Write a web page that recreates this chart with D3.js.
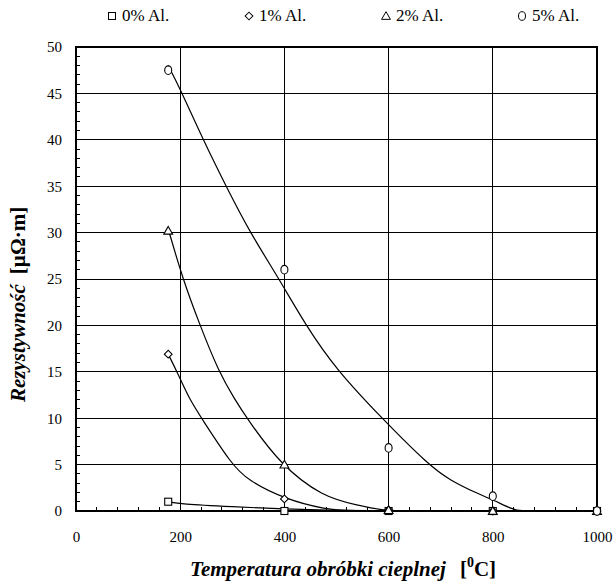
<!DOCTYPE html>
<html>
<head>
<meta charset="utf-8">
<script src="https://cdn.jsdelivr.net/npm/d3@7"></script>
<style>
  body { margin: 0; background: #fff; }
</style>
</head>
<body>
<div id="container"><svg></svg></div>
<script>
let width = 613;
let height = 586;

// measured points (temperature, resistivity)
const temps = [177, 400, 600, 800, 1000];
const al0 = [1.0, 0.0, 0.0, 0.0, 0.0];
const al1 = [16.9, 1.3, 0.1, 0.0, 0.0];
const al2 = [30.2, 5.0, 0.1, 0.0, 0.0];
const al5 = [47.5, 26.0, 6.8, 1.6, 0.0];

// trend lines
const trend0_t = [177, 200, 300, 400, 500, 600, 900];
const trend0_v = [1.0, 0.75, 0.46, 0.2, 0.05, 0.0, 0.0];
const trend1_t = [177, 194, 218, 241, 299, 330, 400, 480, 530, 900];
const trend1_v = [16.9, 15, 12, 10, 5, 3.3, 1.3, 0.15, 0.0, 0.0];
const trend2_t = [178, 205, 238, 274, 305, 328, 392, 474, 539, 590, 620, 900];
const trend2_v = [30.2, 25, 20, 15, 12, 10, 5, 1.5, 0.65, 0.05, 0.0, 0.0];
const trend5_t = [177, 200, 244, 288, 334, 390, 441, 500, 587, 676, 718, 770, 800, 837, 850, 905];
const trend5_v = [48.0, 45.5, 40, 35, 30, 25, 20, 15.2, 10, 5, 3.3, 1.9, 1.2, 0.2, 0.0, 0.0];

const series_names = ["0% Al.", "1% Al.", "2% Al.", "5% Al."];
const x_ticks = [0, 200, 400, 600, 800, 1000];
const y_ticks = [0, 5, 10, 15, 20, 25, 30, 35, 40, 45, 50];

let margin = {left: 76, right: 16, top: 47, bottom: 75};
let serif = "Liberation Serif";

function marker(g, kind, cx, cy) {
    if (kind == 0) {
        g.append("rect").attr("x", cx - 3.5).attr("y", cy - 3.5)
            .attr("width", 7).attr("height", 7);
    } else if (kind == 1) {
        g.append("path").attr("d", d3.symbol(d3.symbolSquare, 30)())
            .attr("transform", `translate(${cx},${cy}) rotate(45)`);
    } else if (kind == 2) {
        g.append("path").attr("d", d3.symbol(d3.symbolTriangle, 34)())
            .attr("transform", `translate(${cx},${cy + 0.8})`);
    } else {
        g.append("ellipse").attr("cx", cx).attr("cy", cy).attr("rx", 3.5).attr("ry", 4.3);
    }
}

function draw_chart() {
    let svg = d3.select('#container').select('svg')
        .attr('width', width)
        .attr('height', height);

    let x = d3.scaleLinear().domain([0, 1000]).range([margin.left, width - margin.right]);
    let y = d3.scaleLinear().domain([0, 50]).range([height - margin.bottom, margin.top]);

    // grid
    let grid = svg.append("g").attr("stroke", "#000").attr("stroke-width", 1)
        .attr("shape-rendering", "crispEdges");
    grid.selectAll(".gx").data(x_ticks.slice(1, -1)).join("line")
        .attr("x1", d => x(d)).attr("x2", d => x(d))
        .attr("y1", y(0)).attr("y2", y(50));
    grid.selectAll(".gy").data(y_ticks.slice(1, -1)).join("line")
        .attr("class", "gy")
        .attr("x1", x(0)).attr("x2", x(1000))
        .attr("y1", d => y(d)).attr("y2", d => y(d));

    // minor ticks
    grid.selectAll(".mx").data(d3.range(40, 1000, 40)).join("line")
        .attr("class", "mx")
        .attr("x1", d => x(d)).attr("x2", d => x(d))
        .attr("y1", y(0)).attr("y2", y(0) - 4);
    grid.selectAll(".my").data(d3.range(1, 50, 1)).join("line")
        .attr("class", "my")
        .attr("x1", x(0)).attr("x2", x(0) + 4)
        .attr("y1", d => y(d)).attr("y2", d => y(d));

    // frame
    svg.append("rect")
        .attr("x", x(0)).attr("y", y(50))
        .attr("width", x(1000) - x(0)).attr("height", y(0) - y(50))
        .attr("fill", "none").attr("stroke", "#000").attr("stroke-width", 1.5)
        .attr("shape-rendering", "crispEdges");
    svg.append("line").attr("x1", x(0)).attr("x2", x(1000))
        .attr("y1", y(0)).attr("y2", y(0)).attr("stroke", "#000").attr("stroke-width", 2);

    // axes labels
    let xAxis = svg.append("g").attr("transform", `translate(0,${y(0)})`)
        .call(d3.axisBottom(x).tickValues(x_ticks).tickFormat(d3.format("d")).tickSize(0).tickPadding(20));
    xAxis.select(".domain").remove();
    xAxis.selectAll("text").attr("fill", "#000")
        .attr("font-family", serif).attr("font-size", 15);

    let yAxis = svg.append("g").attr("transform", `translate(${x(0)},0)`)
        .call(d3.axisLeft(y).tickValues(y_ticks).tickSize(0).tickPadding(14));
    yAxis.select(".domain").remove();
    yAxis.selectAll("text").attr("fill", "#000")
        .attr("font-family", serif).attr("font-size", 15);

    // trend lines
    let line = d3.line().x(d => x(d[0])).y(d => y(d[1])).curve(d3.curveBasis);
    let trends = [[trend0_t, trend0_v], [trend1_t, trend1_v], [trend2_t, trend2_v], [trend5_t, trend5_v]];
    svg.append("g").selectAll("path").data(trends).join("path")
        .attr("d", d => line(d3.zip(d[0], d[1])))
        .attr("fill", "none").attr("stroke", "#000").attr("stroke-width", 1.2);

    // markers
    let all = [al0, al1, al2, al5];
    let mk = svg.append("g").attr("fill", "#fff").attr("stroke", "#000").attr("stroke-width", 1.1);
    for (let s = 0; s < all.length; s++) {
        for (let i = 0; i < temps.length; i++) {
            marker(mk, s, x(temps[i]), y(all[s][i]));
        }
    }

    // legend
    let leg_x = [112, 249, 386, 522];
    let lg = svg.append("g");
    let lm = lg.append("g").attr("fill", "#fff").attr("stroke", "#000").attr("stroke-width", 1);
    for (let s = 0; s < series_names.length; s++) {
        marker(lm, s, leg_x[s], 16);
        lg.append("text").attr("x", leg_x[s] + 10).attr("y", 21)
            .attr("font-family", serif).attr("font-size", 17).text(series_names[s]);
    }

    // axis titles
    let xt = svg.append("text").attr("x", 190).attr("y", 576)
        .attr("font-family", serif).attr("font-size", 21).attr("font-weight", "bold");
    xt.append("tspan").attr("font-style", "italic").text("Temperatura obróbki cieplnej");
    xt.append("tspan").attr("dx", 14).text("[");
    xt.append("tspan").attr("font-size", 14).attr("dy", -9).text("0");
    xt.append("tspan").attr("dy", 9).text("C]");

    let yt = svg.append("text").attr("transform", "translate(25,402) rotate(-90)")
        .attr("font-family", serif).attr("font-size", 21).attr("font-weight", "bold");
    yt.append("tspan").attr("font-style", "italic").text("Rezystywność");
    yt.append("tspan").attr("dx", 10).text("[µΩ·m]");
}

draw_chart();
</script>
</body>
</html>
